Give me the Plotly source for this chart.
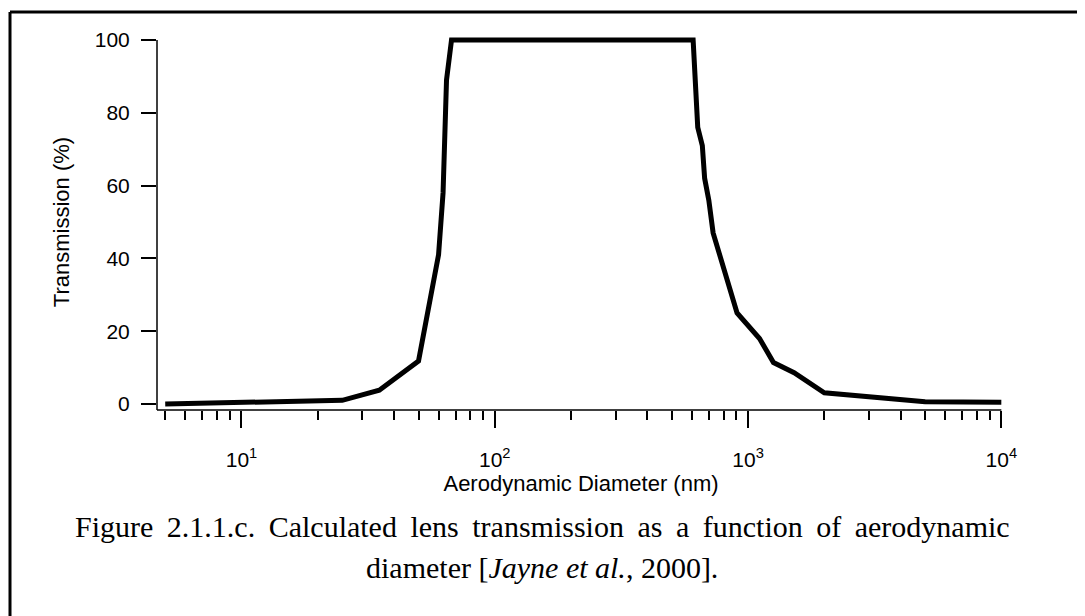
import math
import plotly.graph_objects as go

# ---- data ----
diameter_nm = [5, 10, 25, 35, 50, 60, 62.5, 64.5, 67.5, 607, 633, 660, 674, 700, 728,
               905, 1110, 1260, 1520, 2000, 5000, 10000]
transmission_pct = [0.0, 0.3, 1.0, 3.8, 11.8, 41, 58, 89, 100, 100, 76, 71, 62, 56, 47,
                    25, 18, 11.4, 8.6, 3.1, 0.6, 0.5]

x_major_ticks = [10, 100, 1000, 10000]
x_major_labels = ["10<sup>1</sup>", "10<sup>2</sup>", "10<sup>3</sup>", "10<sup>4</sup>"]
x_minor_ticks = [5, 6, 7, 8, 9,
                 20, 30, 40, 50, 60, 70, 80, 90,
                 200, 300, 400, 500, 600, 700, 800, 900,
                 2000, 3000, 4000, 5000, 6000, 7000, 8000, 9000]
y_ticks = [0, 20, 40, 60, 80, 100]

x_title = "Aerodynamic Diameter (nm)"
y_title = "Transmission (%)"
caption_1_words = ["Figure", "2.1.1.c.", "Calculated", "lens", "transmission", "as", "a",
                   "function", "of", "aerodynamic"]
caption_2 = "diameter [<i>Jayne et al.</i>, 2000]."

# ---- layout constants ----
PAGE_MARGIN = 8           # default <body> margin of the written page
W, H = 1085 - PAGE_MARGIN, 616 - PAGE_MARGIN
ML, MR, MT, MB = 149, 80, 26, 206
X_LOG_RANGE = [0.6665, 4.0145]
Y_RANGE = [-1.65, 101.65]
X_AXIS_START = 10 ** X_LOG_RANGE[0]
X_AXIS_END = 10000
Y_AXIS_TOP = 100

AX_FONT = dict(family="Liberation Sans, Arial, sans-serif", size=21, color="black")
TITLE_FONT = dict(family="Liberation Sans, Arial, sans-serif", size=22, color="black")
CAP_FONT = dict(family="Liberation Serif, Times New Roman, serif", size=30, color="black")
JUSTIFY_GAP = " \u2009"   # slightly widened word gap: first caption line is justified

plot_w = W - ML - MR
plot_h = H - MT - MB


def px_to_paper_x(px):
    """screen pixel (as in the reference) -> paper x"""
    return (px - PAGE_MARGIN - ML) / plot_w


def px_to_paper_y(py):
    return (H - MB - (py - PAGE_MARGIN)) / plot_h


fig = go.Figure()
fig.add_trace(go.Scatter(
    x=diameter_nm, y=transmission_pct, mode="lines",
    line=dict(color="black", width=5),
    hoverinfo="x+y", showlegend=False,
))

fig.update_layout(
    width=W, height=H,
    margin=dict(l=ML, r=MR, t=MT, b=MB, autoexpand=False),
    paper_bgcolor="white", plot_bgcolor="white",
    font=AX_FONT,
    showlegend=False,
    xaxis=dict(
        type="log", range=X_LOG_RANGE, showgrid=False, zeroline=False, showline=False,
        tickmode="array", tickvals=x_major_ticks, ticktext=x_major_labels,
        ticks="outside", ticklen=17, tickwidth=1.5, tickcolor="black",
        ticklabelstandoff=14,
        minor=dict(tickmode="array", tickvals=x_minor_ticks, ticks="outside",
                   ticklen=9, tickwidth=1.5, tickcolor="black", showgrid=False),
        tickfont=AX_FONT,
        title=dict(text=x_title, font=TITLE_FONT, standoff=0),
        automargin=False,
    ),
    yaxis=dict(
        range=Y_RANGE, showgrid=False, zeroline=False, showline=False,
        tickmode="array", tickvals=y_ticks,
        ticks="outside", ticklen=15, tickwidth=1.5, tickcolor="black",
        ticklabelstandoff=7,
        tickfont=AX_FONT,
        title=dict(text=y_title, font=TITLE_FONT, standoff=19),
        automargin=False,
    ),
)

# axis lines (x axis ends at 10^4, y axis ends at 100)
fig.add_shape(type="line", xref="x", yref="paper", x0=X_AXIS_START, x1=X_AXIS_END,
              y0=0, y1=0, line=dict(color="black", width=1.5))
fig.add_shape(type="line", xref="paper", yref="y", x0=0, x1=0,
              y0=Y_RANGE[0], y1=Y_AXIS_TOP, line=dict(color="black", width=1.5))

# page frame (top and left border of the figure box)
fig.add_shape(type="line", xref="paper", yref="paper",
              x0=px_to_paper_x(10), x1=px_to_paper_x(1100),
              y0=px_to_paper_y(12), y1=px_to_paper_y(12),
              line=dict(color="black", width=3))
fig.add_shape(type="line", xref="paper", yref="paper",
              x0=px_to_paper_x(10), x1=px_to_paper_x(10),
              y0=px_to_paper_y(12), y1=px_to_paper_y(630),
              line=dict(color="black", width=3))

# caption
fig.add_annotation(text=JUSTIFY_GAP.join(caption_1_words), xref="paper", yref="paper",
                   x=px_to_paper_x(542), y=px_to_paper_y(526),
                   xanchor="center", yanchor="middle", showarrow=False, font=CAP_FONT)
fig.add_annotation(text=caption_2, xref="paper", yref="paper",
                   x=px_to_paper_x(542), y=px_to_paper_y(567),
                   xanchor="center", yanchor="middle", showarrow=False, font=CAP_FONT)

fig.write_html("out.html")
